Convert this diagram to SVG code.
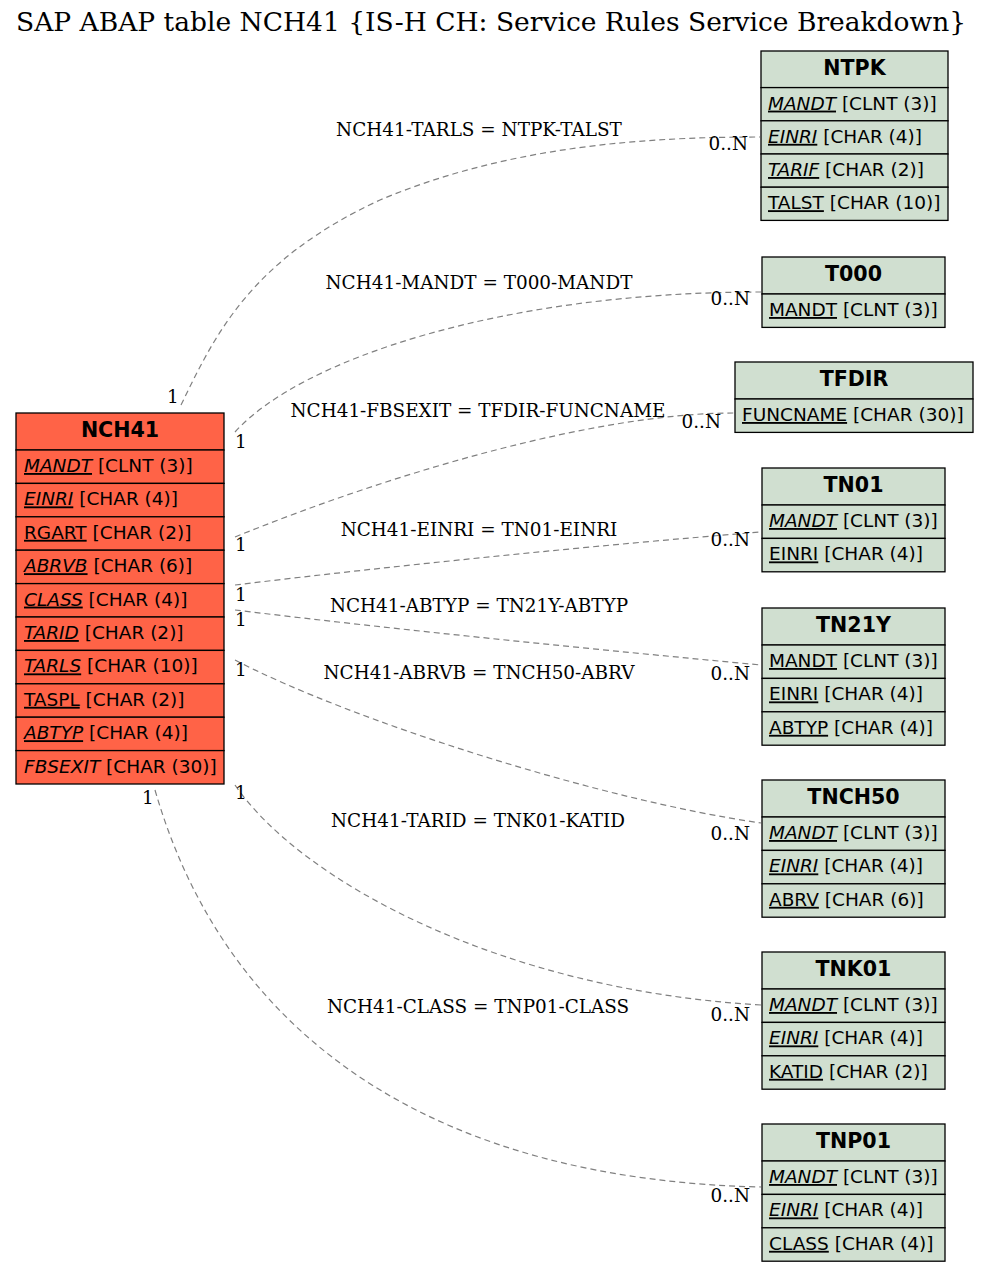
<svg xmlns="http://www.w3.org/2000/svg" width="989" height="1271" viewBox="0 0 989 1271">
<style>
.bg{fill:#ffffff}
.title{font-family:"DejaVu Serif","Liberation Serif",serif;font-size:26.5px;fill:#000}
.lbl{font-family:"DejaVu Serif","Liberation Serif",serif;font-size:18.4px;fill:#000}
.card{font-family:"DejaVu Serif","Liberation Serif",serif;font-size:18.4px;fill:#000}
.hdr{font-family:"DejaVu Sans","Liberation Sans",sans-serif;font-size:20.6px;font-weight:bold;fill:#000;text-anchor:middle}
.fld{font-family:"DejaVu Sans","Liberation Sans",sans-serif;font-size:18.5px;fill:#000}
.k{text-decoration:underline}
.i{font-style:italic}
.main rect{fill:#ff6347;stroke:#000;stroke-width:1.3}
.ref rect{fill:#d0dfd0;stroke:#000;stroke-width:1.3}
.edge{fill:none;stroke:#808080;stroke-width:1.2;stroke-dasharray:6,4}
</style>
<rect class="bg" x="0" y="0" width="989" height="1271"/>
<text class="title" x="16" y="31">SAP ABAP table NCH41 {IS-H CH: Service Rules Service Breakdown}</text>

<g id="connectors">
<path class="edge" d="M181,405 C215,335 250,260 380,200 C510,145 650,137 760,137"/>
<path class="edge" d="M235,432 C300,360 500,292 761,292"/>
<path class="edge" d="M235,537 C400,470 600,413 734,413"/>
<path class="edge" d="M235,585 C400,565 600,545 761,532"/>
<path class="edge" d="M235,610 C400,630 600,650 761,665"/>
<path class="edge" d="M235,660 C350,720 600,800 761,823"/>
<path class="edge" d="M235,785 C300,880 500,990 761,1005"/>
<path class="edge" d="M155,790 C230,1050 450,1180 761,1187"/>
<text class="lbl" x="479" y="136" text-anchor="middle">NCH41-TARLS = NTPK-TALST</text>
<text class="lbl" x="479" y="289" text-anchor="middle">NCH41-MANDT = T000-MANDT</text>
<text class="lbl" x="478" y="417" text-anchor="middle">NCH41-FBSEXIT = TFDIR-FUNCNAME</text>
<text class="lbl" x="479" y="536" text-anchor="middle">NCH41-EINRI = TN01-EINRI</text>
<text class="lbl" x="479" y="612" text-anchor="middle">NCH41-ABTYP = TN21Y-ABTYP</text>
<text class="lbl" x="479" y="679" text-anchor="middle">NCH41-ABRVB = TNCH50-ABRV</text>
<text class="lbl" x="478" y="827" text-anchor="middle">NCH41-TARID = TNK01-KATID</text>
<text class="lbl" x="478" y="1013" text-anchor="middle">NCH41-CLASS = TNP01-CLASS</text>
<text class="card" x="167" y="403">1</text>
<text class="card" x="235" y="448">1</text>
<text class="card" x="235" y="551">1</text>
<text class="card" x="235" y="601">1</text>
<text class="card" x="235" y="626">1</text>
<text class="card" x="235" y="676">1</text>
<text class="card" x="235" y="799">1</text>
<text class="card" x="142" y="804">1</text>
<text class="card" x="748" y="150" text-anchor="end">0..N</text>
<text class="card" x="750" y="305" text-anchor="end">0..N</text>
<text class="card" x="721" y="428" text-anchor="end">0..N</text>
<text class="card" x="750" y="546" text-anchor="end">0..N</text>
<text class="card" x="750" y="680" text-anchor="end">0..N</text>
<text class="card" x="750" y="840" text-anchor="end">0..N</text>
<text class="card" x="750" y="1021" text-anchor="end">0..N</text>
<text class="card" x="750" y="1202" text-anchor="end">0..N</text>
</g>

<g id="NCH41" class="main">
<rect x="16" y="413" width="208" height="37"/>
<text class="hdr" x="120" y="437">NCH41</text>
<rect x="16" y="450" width="208" height="33.4"/>
<text class="fld" x="24" y="472"><tspan class="k i">MANDT</tspan> [CLNT (3)]</text>
<rect x="16" y="483.4" width="208" height="33.4"/>
<text class="fld" x="24" y="505.4"><tspan class="k i">EINRI</tspan> [CHAR (4)]</text>
<rect x="16" y="516.8" width="208" height="33.4"/>
<text class="fld" x="24" y="538.8"><tspan class="k">RGART</tspan> [CHAR (2)]</text>
<rect x="16" y="550.2" width="208" height="33.4"/>
<text class="fld" x="24" y="572.2"><tspan class="k i">ABRVB</tspan> [CHAR (6)]</text>
<rect x="16" y="583.6" width="208" height="33.4"/>
<text class="fld" x="24" y="605.6"><tspan class="k i">CLASS</tspan> [CHAR (4)]</text>
<rect x="16" y="617" width="208" height="33.4"/>
<text class="fld" x="24" y="639"><tspan class="k i">TARID</tspan> [CHAR (2)]</text>
<rect x="16" y="650.4" width="208" height="33.4"/>
<text class="fld" x="24" y="672.4"><tspan class="k i">TARLS</tspan> [CHAR (10)]</text>
<rect x="16" y="683.8" width="208" height="33.4"/>
<text class="fld" x="24" y="705.8"><tspan class="k">TASPL</tspan> [CHAR (2)]</text>
<rect x="16" y="717.2" width="208" height="33.4"/>
<text class="fld" x="24" y="739.2"><tspan class="k i">ABTYP</tspan> [CHAR (4)]</text>
<rect x="16" y="750.6" width="208" height="33.4"/>
<text class="fld" x="24" y="772.6"><tspan class="i">FBSEXIT</tspan> [CHAR (30)]</text>
</g>

<g id="NTPK" class="ref">
<rect x="761" y="51" width="187" height="36.6"/>
<text class="hdr" x="854.5" y="75">NTPK</text>
<rect x="761" y="87.6" width="187" height="33.2"/>
<text class="fld" x="768" y="109.6"><tspan class="k i">MANDT</tspan> [CLNT (3)]</text>
<rect x="761" y="120.8" width="187" height="33.2"/>
<text class="fld" x="768" y="142.8"><tspan class="k i">EINRI</tspan> [CHAR (4)]</text>
<rect x="761" y="154" width="187" height="33.2"/>
<text class="fld" x="768" y="176"><tspan class="k i">TARIF</tspan> [CHAR (2)]</text>
<rect x="761" y="187.2" width="187" height="33.2"/>
<text class="fld" x="768" y="209.2"><tspan class="k">TALST</tspan> [CHAR (10)]</text>
</g>

<g id="T000" class="ref">
<rect x="762" y="257" width="183" height="37"/>
<text class="hdr" x="853.5" y="281">T000</text>
<rect x="762" y="294" width="183" height="33.4"/>
<text class="fld" x="769" y="316"><tspan class="k">MANDT</tspan> [CLNT (3)]</text>
</g>

<g id="TFDIR" class="ref">
<rect x="735" y="362" width="238" height="37"/>
<text class="hdr" x="854" y="386">TFDIR</text>
<rect x="735" y="399" width="238" height="33.4"/>
<text class="fld" x="742" y="421"><tspan class="k">FUNCNAME</tspan> [CHAR (30)]</text>
</g>

<g id="TN01" class="ref">
<rect x="762" y="468" width="183" height="37"/>
<text class="hdr" x="853.5" y="492">TN01</text>
<rect x="762" y="505" width="183" height="33.4"/>
<text class="fld" x="769" y="527"><tspan class="k i">MANDT</tspan> [CLNT (3)]</text>
<rect x="762" y="538.4" width="183" height="33.4"/>
<text class="fld" x="769" y="560.4"><tspan class="k">EINRI</tspan> [CHAR (4)]</text>
</g>

<g id="TN21Y" class="ref">
<rect x="762" y="608" width="183" height="37"/>
<text class="hdr" x="853.5" y="632">TN21Y</text>
<rect x="762" y="645" width="183" height="33.4"/>
<text class="fld" x="769" y="667"><tspan class="k">MANDT</tspan> [CLNT (3)]</text>
<rect x="762" y="678.4" width="183" height="33.4"/>
<text class="fld" x="769" y="700.4"><tspan class="k">EINRI</tspan> [CHAR (4)]</text>
<rect x="762" y="711.8" width="183" height="33.4"/>
<text class="fld" x="769" y="733.8"><tspan class="k">ABTYP</tspan> [CHAR (4)]</text>
</g>

<g id="TNCH50" class="ref">
<rect x="762" y="780" width="183" height="37"/>
<text class="hdr" x="853.5" y="804">TNCH50</text>
<rect x="762" y="817" width="183" height="33.4"/>
<text class="fld" x="769" y="839"><tspan class="k i">MANDT</tspan> [CLNT (3)]</text>
<rect x="762" y="850.4" width="183" height="33.4"/>
<text class="fld" x="769" y="872.4"><tspan class="k i">EINRI</tspan> [CHAR (4)]</text>
<rect x="762" y="883.8" width="183" height="33.4"/>
<text class="fld" x="769" y="905.8"><tspan class="k">ABRV</tspan> [CHAR (6)]</text>
</g>

<g id="TNK01" class="ref">
<rect x="762" y="952" width="183" height="37"/>
<text class="hdr" x="853.5" y="976">TNK01</text>
<rect x="762" y="989" width="183" height="33.4"/>
<text class="fld" x="769" y="1011"><tspan class="k i">MANDT</tspan> [CLNT (3)]</text>
<rect x="762" y="1022.4" width="183" height="33.4"/>
<text class="fld" x="769" y="1044.4"><tspan class="k i">EINRI</tspan> [CHAR (4)]</text>
<rect x="762" y="1055.8" width="183" height="33.4"/>
<text class="fld" x="769" y="1077.8"><tspan class="k">KATID</tspan> [CHAR (2)]</text>
</g>

<g id="TNP01" class="ref">
<rect x="762" y="1124" width="183" height="37"/>
<text class="hdr" x="853.5" y="1148">TNP01</text>
<rect x="762" y="1161" width="183" height="33.4"/>
<text class="fld" x="769" y="1183"><tspan class="k i">MANDT</tspan> [CLNT (3)]</text>
<rect x="762" y="1194.4" width="183" height="33.4"/>
<text class="fld" x="769" y="1216.4"><tspan class="k i">EINRI</tspan> [CHAR (4)]</text>
<rect x="762" y="1227.8" width="183" height="33.4"/>
<text class="fld" x="769" y="1249.8"><tspan class="k">CLASS</tspan> [CHAR (4)]</text>
</g>
</svg>
